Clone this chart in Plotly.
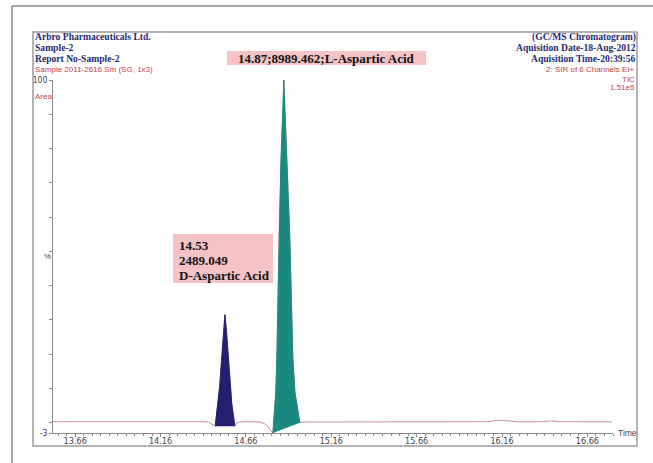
import plotly.graph_objects as go

# ---------------- data ----------------
time = [13.53, 13.60, 13.70, 13.80, 13.90, 14.00, 14.10, 14.20, 14.30, 14.40, 14.44, 14.46, 14.47,
        14.480, 14.487, 14.497, 14.507, 14.517, 14.527, 14.537, 14.547, 14.557, 14.567, 14.577, 14.587, 14.595,
        14.60, 14.62, 14.66, 14.70, 14.74, 14.77, 14.79, 14.805,
        14.818, 14.835, 14.841, 14.853, 14.865, 14.876, 14.882, 14.888, 14.900, 14.917, 14.935, 14.947, 14.976,
        15.00, 15.20, 15.40, 15.60, 15.80, 16.00, 16.08, 16.12, 16.16, 16.20, 16.26, 16.40, 16.45, 16.50,
        16.60, 16.70, 16.805]
intensity = [0.3, 0.3, 0.35, 0.4, 0.45, 0.45, 0.4, 0.35, 0.3, 0.3, 0.2, -0.5, -0.9,
             -1.0, 2.0, 5.5, 11.0, 18.0, 26.0, 31.5, 26.0, 18.0, 11.0, 5.5, 2.0, -1.0,
             -0.3, 0.2, 0.3, 0.3, 0.2, -0.3, -1.2, -2.3,
             -3.0, 8.8, 18.4, 54.0, 77.0, 91.0, 100.0, 91.0, 77.0, 54.0, 18.4, 8.8, 0.0,
             0.2, 0.2, 0.2, 0.2, 0.2, 0.25, 0.3, 0.6, 0.7, 0.5, 0.25, 0.3, 0.55, 0.3,
             0.25, 0.25, 0.25]

peak_names = ["D-Aspartic Acid", "L-Aspartic Acid"]
peak_rt = ["14.53", "14.87"]
peak_area = ["2489.049", "8989.462"]
peak_start = [14.480, 14.818]
peak_end = [14.595, 14.976]
peak_colors = ["#23206f", "#1a8a80"]

x_tick_vals = [13.66, 14.16, 14.66, 15.16, 15.66, 16.16, 16.66]
x_tick_text = ["13.66", "14.16", "14.66", "15.16", "15.66", "16.16", "16.66"]
y_tick_vals = [-3, 0, 10, 20, 30, 40, 50, 60, 70, 80, 90, 100]
y_tick_text = ["-3", "", "", "", "", "", "", "", "", "", "", "100"]

header_left = ["Arbro Pharmaceuticals Ltd.", "Sample-2", "Report No-Sample-2"]
header_left_sub = "Sample 2011-2616 Sm (SG, 1x3)"
header_right = ["(GC/MS Chromatogram)", "Aquisition Date-18-Aug-2012", "Aquisition Time-20:39:56"]
header_right_sub = ["2: SIR of 6 Channels EI+", "TIC", "1.51e5"]

# ---------------- layout helpers (pixel -> paper) ----------------
W, H = 653, 463
L_M, R_M, T_M, B_M = 53, 40, 80, 30
PW, PH = W - L_M - R_M, H - T_M - B_M


def px(x):
    return (x - L_M) / PW


def py(y):
    return (H - B_M - y) / PH


NAVY = "#1f2a72"
RED = "#c0444c"
GRAY_TXT = "#444444"
SERIF = "Liberation Serif, Times New Roman, serif"
SANS = "Liberation Sans Narrow, DejaVu Sans Condensed, Liberation Sans, Arial, sans-serif"
SANS_R = "Liberation Sans, Arial, sans-serif"

fig = go.Figure()

# chromatogram line
fig.add_trace(go.Scatter(x=time, y=intensity, mode="lines",
                         line=dict(color="#cc8e93", width=1), hoverinfo="skip", showlegend=False))

# filled peaks
for s, e, c in zip(peak_start, peak_end, peak_colors):
    xs = [t for t in time if s <= t <= e]
    ys = [v for t, v in zip(time, intensity) if s <= t <= e]
    fig.add_trace(go.Scatter(x=xs, y=ys, mode="lines", fill="toself", fillcolor=c,
                             line=dict(color=c, width=1), hoverinfo="skip", showlegend=False))

shapes = [
    # inner frame
    dict(type="rect", xref="paper", yref="paper", x0=px(33), x1=px(637), y0=py(446), y1=py(32),
         line=dict(color="#9a9a9a", width=1.5)),
    # outer border lines
    dict(type="line", xref="paper", yref="paper", x0=px(12), x1=px(653), y0=py(6), y1=py(6),
         line=dict(color="#8a8a8a", width=1.5)),
    dict(type="line", xref="paper", yref="paper", x0=px(12), x1=px(12), y0=py(6), y1=py(463),
         line=dict(color="#8a8a8a", width=1.5)),
    # label boxes
    dict(type="rect", xref="paper", yref="paper", x0=px(227), x1=px(426), y0=py(65), y1=py(51),
         fillcolor="#f5c3c6", line=dict(width=0)),
    dict(type="rect", xref="paper", yref="paper", x0=px(173), x1=px(273), y0=py(283), y1=py(234),
         fillcolor="#f5c3c6", line=dict(width=0)),
]

ann = []


def add_text(text, x, y, xanchor, size, color, family, bold=False):
    ann.append(dict(text=("<b>%s</b>" % text) if bold else text, xref="paper", yref="paper",
                    x=px(x), y=py(y), xanchor=xanchor, yanchor="middle", showarrow=False,
                    font=dict(size=size, color=color, family=family)))


for i, t in enumerate(header_left):
    add_text(t, 33, 37 + i * 11, "left", 9.6, NAVY, SERIF, True)
add_text(header_left_sub, 33, 70, "left", 8, RED, SANS_R)
add_text("Area", 33, 96, "left", 8, RED, SANS_R)
for i, t in enumerate(header_right):
    add_text(t, 638, 37 + i * 11, "right", 9.6, NAVY, SERIF, True)
for i, (t, yy) in enumerate(zip(header_right_sub, [70, 79, 88])):
    add_text(t, 637, yy, "right", 8, RED, SANS_R)

# peak labels
add_text("%s;%s;%s" % (peak_rt[1], peak_area[1], peak_names[1]), 326.5, 58.5, "center", 13, "#111111", SERIF, True)
for i, t in enumerate([peak_rt[0], peak_area[0], peak_names[0]]):
    add_text(t, 177, 245 + i * 15, "left", 13, "#111111", SERIF, True)

# axis extras
add_text("%", 47, 256, "center", 8, GRAY_TXT, SANS_R)
add_text("Time", 616, 433, "left", 8.5, GRAY_TXT, SANS_R)

fig.update_layout(
    width=W, height=H,
    margin=dict(l=L_M, r=R_M, t=T_M, b=B_M),
    paper_bgcolor="white", plot_bgcolor="white",
    shapes=shapes, annotations=ann, showlegend=False,
    xaxis=dict(range=[13.53, 16.81], showgrid=False, zeroline=False, showline=True,
               linecolor="#8a8a8a", linewidth=1, ticks="outside", ticklen=3, tickcolor="#8a8a8a",
               tickvals=x_tick_vals, ticktext=x_tick_text, ticklabelstandoff=-4,
               tickfont=dict(size=9, color=GRAY_TXT, family=SANS),
               minor=dict(tick0=13.66, dtick=0.05, ticks="outside", ticklen=2, tickcolor="#8a8a8a")),
    yaxis=dict(range=[-3, 100], showgrid=False, zeroline=False, showline=True,
               linecolor="#8a8a8a", linewidth=1, ticks="outside", ticklen=3, tickcolor="#8a8a8a",
               tickvals=y_tick_vals, ticktext=y_tick_text,
               tickfont=dict(size=8.5, color=GRAY_TXT, family=SANS)),
)

fig.write_html("out.html", config={"displayModeBar": False},
               post_script="document.body.style.margin='0';document.body.style.overflow='hidden';")
